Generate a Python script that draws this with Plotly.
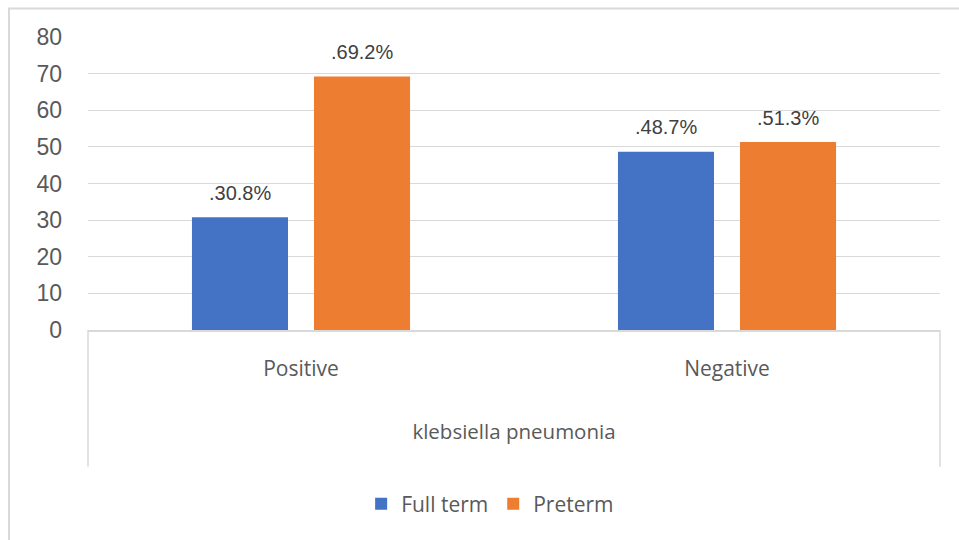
import plotly.graph_objects as go

# Data
categories = ["Positive", "Negative"]
group_title = "klebsiella pneumonia"
full_term = [30.8, 48.7]
preterm = [69.2, 51.3]
series_names = ["Full term", "Preterm"]
y_ticks = [0, 10, 20, 30, 40, 50, 60, 70, 80]

BLUE = "#4472C4"
ORANGE = "#ED7D31"
GRID = "#D9D9D9"
TEXT = "#595959"
LABEL = "#404040"

fig = go.Figure()
fig.add_trace(go.Bar(x=categories, y=full_term, name=series_names[0],
                     marker=dict(color=BLUE, line=dict(width=0))))
fig.add_trace(go.Bar(x=categories, y=preterm, name=series_names[1],
                     marker=dict(color=ORANGE, line=dict(width=0))))

# Value labels above each bar
annotations = []
for vals, shift in ((full_term, -61), (preterm, 61)):
    for cat, v in zip(categories, vals):
        annotations.append(dict(
            x=cat, y=v, xref="x", yref="y", text=f".{v:.1f}%",
            showarrow=False, xshift=shift, yshift=24.5, yanchor="middle",
            font=dict(family="Liberation Sans, Arial", size=20, color=LABEL)))

shapes = [
    # category axis group dividers
    dict(type="line", xref="paper", yref="paper", x0=0, x1=0, y0=0, y1=-0.4666,
         line=dict(color=GRID, width=1.5)),
    dict(type="line", xref="paper", yref="paper", x0=1, x1=1, y0=0, y1=-0.4666,
         line=dict(color=GRID, width=1.5)),
    # chart area border
    dict(type="rect", xref="paper", yref="paper", x0=-0.0927, x1=1.2,
         y0=-1.2, y1=1.097, line=dict(color=GRID, width=2), layer="below"),
]

fig.update_layout(
    width=959, height=540,
    margin=dict(l=88, r=19, t=37, b=210),
    paper_bgcolor="white", plot_bgcolor="white",
    barmode="group", bargap=0.427, bargroupgap=0.213,
    annotations=annotations, shapes=shapes,
    legend=dict(orientation="h", x=0.472, xanchor="center", y=-0.594,
                yanchor="middle", font=dict(family="Open Sans", size=21, color=TEXT),
                itemwidth=30, traceorder="normal"),
    xaxis=dict(
        showgrid=False, showline=True, linecolor=GRID, linewidth=1.5,
        ticks="", ticklabelstandoff=19,
        tickfont=dict(family="Open Sans", size=21, color=TEXT),
        title=dict(text=group_title, standoff=44,
                   font=dict(family="Open Sans", size=20.5, color=TEXT)),
    ),
    yaxis=dict(
        range=[0, 80], tickvals=y_ticks, showgrid=True, gridcolor=GRID,
        gridwidth=1.3, zeroline=False, showline=False, ticks="",
        ticklabelstandoff=25,
        tickfont=dict(family="Liberation Sans, Arial", size=23, color=TEXT),
    ),
)

fig.write_html("out.html")
